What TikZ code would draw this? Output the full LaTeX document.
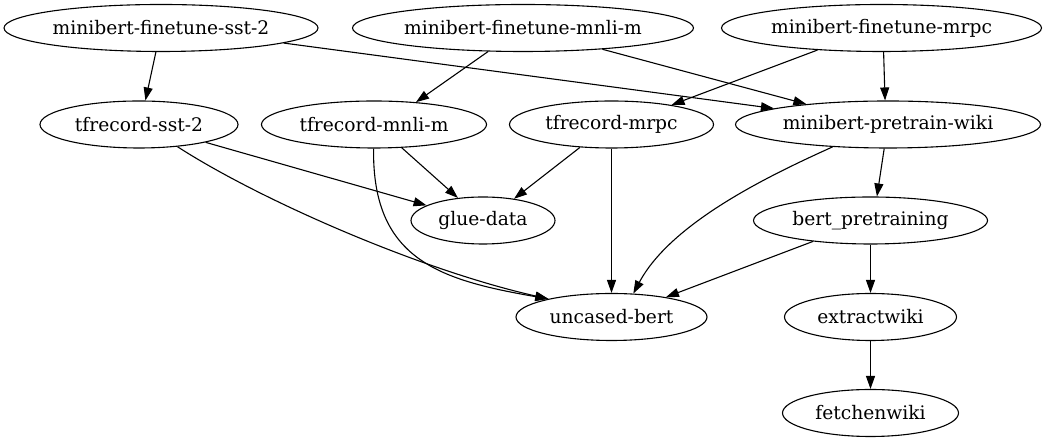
\documentclass[tikz,border=0pt]{standalone}
\usepackage{fontspec}
\setmainfont{DejaVu Serif}
\usetikzlibrary{arrows.meta,shapes.geometric}
\newcommand{\nlabel}[1]{\makebox[0pt][c]{#1}}
\tikzset{
  nd/.style={draw, ellipse, line width=1.1pt, inner sep=0pt, minimum height=47pt,
    font=\fontsize{18.67}{22}\selectfont},
  ed/.style={line width=1.1pt, -{Triangle[length=13pt,width=9pt]}}
}
\begin{document}
\begin{tikzpicture}[x=1pt,y=1pt]
\useasboundingbox (0,0) rectangle (1047,443);
% row 1 (y=28)
\node[nd, minimum width=314pt] (fs2) at (161,415) {\nlabel{minibert-finetune-sst-2}};
\node[nd, minimum width=341pt] (fmn) at (523,415) {\nlabel{minibert-finetune-mnli-m}};
\node[nd, minimum width=320pt] (fmr) at (881.5,415) {\nlabel{minibert-finetune-mrpc}};
% row 2 (y=124.5)
\node[nd, minimum width=198pt] (ts2) at (139,318.5) {\nlabel{tfrecord-sst-2}};
\node[nd, minimum width=225pt] (tmn) at (374,318.5) {\nlabel{tfrecord-mnli-m}};
\node[nd, minimum width=204pt] (tmr) at (611.5,318.5) {\nlabel{tfrecord-mrpc}};
\node[nd, minimum width=305pt] (mpw) at (888,318.5) {\nlabel{minibert-pretrain-wiki}};
% row 3 (y=220.5)
\node[nd, minimum width=144pt] (glue) at (483,222.5) {\nlabel{glue-data}};
\node[nd, minimum width=234pt] (bert) at (870.5,222.5) {\nlabel{bert\_pretraining}};
% row 4 (y=317)
\node[nd, minimum width=191pt] (unc) at (611.5,126) {\nlabel{uncased-bert}};
\node[nd, minimum width=172pt] (ext) at (870.5,126) {\nlabel{extractwiki}};
% row 5 (y=413)
\node[nd, minimum width=176pt] (fetch) at (870.5,30) {\nlabel{fetchenwiki}};
% edges
\draw[ed] (fs2.-102) -- (ts2.75.7);
\draw[ed] (fs2.-7.5) -- (mpw.172);
\draw[ed] (fmn.-146.7) -- (tmn.28.9);
\draw[ed] (fmn.-15) -- (mpw.166.5);
\draw[ed] (fmr.-161) -- (tmr.18);
\draw[ed] (fmr.-85) -- (mpw.97);
\draw[ed] (ts2.-15.7) -- (glue.165.2);
\draw[ed] (ts2.-30) .. controls (260,243) and (420,173) .. (unc.164);
\draw[ed] (tmn.-40.2) -- (glue.138);
\draw[ed] (tmn.-91) .. controls (372,183) and (440,163) .. (unc.164);
\draw[ed] (tmr.-144) -- (glue.35.6);
\draw[ed] (tmr.-90) -- (unc.90);
\draw[ed] (mpw.-158.3) .. controls (775,270) and (672,222) .. (unc.47.6);
\draw[ed] (mpw.-99.3) -- (bert.75.7);
\draw[ed] (bert.-160.6) -- (unc.20.3);
\draw[ed] (bert.-90) -- (ext.90);
\draw[ed] (ext.-90) -- (fetch.90);
\end{tikzpicture}
\end{document}
